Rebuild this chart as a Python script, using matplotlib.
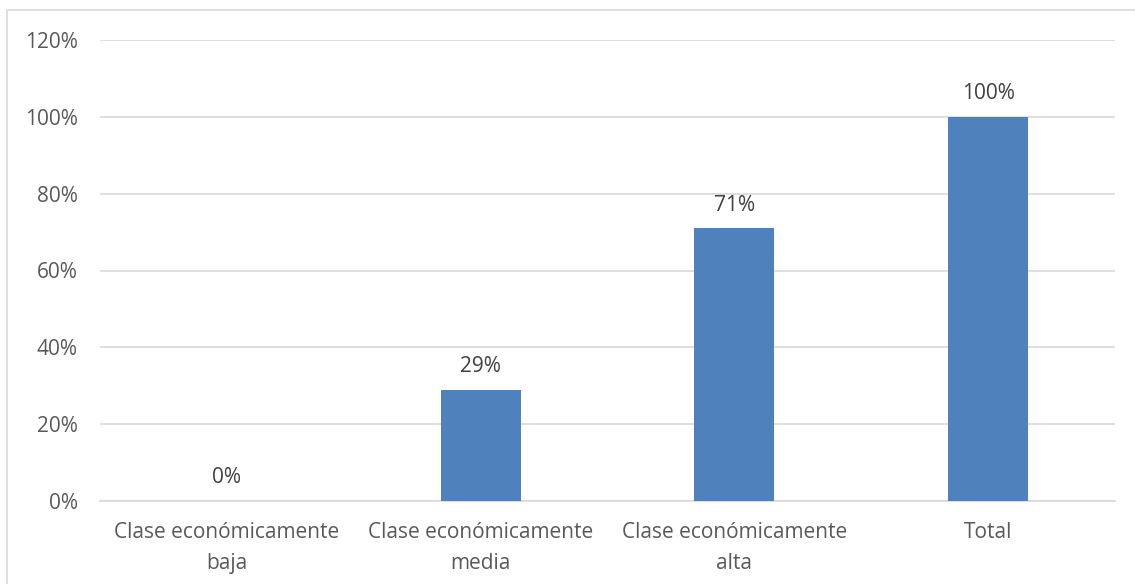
import numpy as np
import matplotlib.pyplot as plt
from matplotlib.patches import Rectangle

categories = ['Clase económicamente\nbaja', 'Clase económicamente\nmedia',
              'Clase económicamente\nalta', 'Total']
values = [0, 29, 71, 100]
labels = ['0%', '29%', '71%', '100%']

plt.rcParams['font.family'] = ['Open Sans', 'DejaVu Sans']

fig = plt.figure(figsize=(11.35, 5.84), dpi=100)
ax = fig.add_axes([100 / 1135, 83 / 584, 1015 / 1135, 461 / 584])

# outer chart border like the office chart frame
fig.patches.append(Rectangle((7 / 1135, -0.1), 1.2, 1.1 - 10 / 584, transform=fig.transFigure,
                             fill=False, edgecolor='#D9D9D9', linewidth=1.2))

x = np.arange(len(categories))
ax.bar(x, values, width=0.315, color='#4F81BD', zorder=3)
for xi, v, lab in zip(x, values, labels):
    ax.text(xi, v + 3.3, lab, ha='center', va='bottom', fontsize=15, color='#404040')

ax.set_xlim(-0.5, 3.5)
ax.set_ylim(0, 120)
ax.set_yticks(np.arange(0, 121, 20))
ax.set_yticklabels(['%d%%' % t for t in range(0, 121, 20)])
ax.set_xticks(x)
ax.set_xticklabels(categories, linespacing=1.65)
ax.yaxis.grid(True, color='#D9D9D9', linewidth=1.2, zorder=0)
ax.tick_params(axis='both', length=0, labelsize=15, labelcolor='#595959')
ax.tick_params(axis='y', pad=16)
ax.tick_params(axis='x', pad=15)
for s in ['top', 'right', 'left']:
    ax.spines[s].set_visible(False)
ax.spines['bottom'].set_color('#D9D9D9')
ax.spines['bottom'].set_linewidth(1.2)

fig.savefig('out.png', dpi=100)
